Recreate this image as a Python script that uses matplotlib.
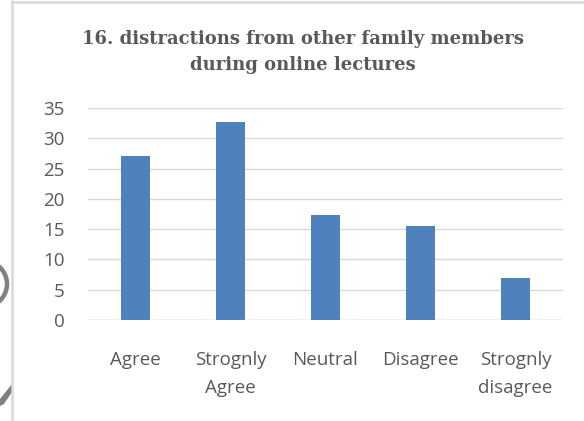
import matplotlib
matplotlib.use("Agg")
import matplotlib.pyplot as plt
from matplotlib.patches import Arc, Polygon
from matplotlib.lines import Line2D

categories = ["Agree", "Strognly\nAgree", "Neutral", "Disagree", "Strognly\ndisagree"]
values = [27, 32.7, 17.3, 15.5, 7.0]
y_ticks = [0, 5, 10, 15, 20, 25, 30, 35]

title = "16. distractions from other family members\nduring online lectures"

text_color = "#595959"
bar_color = "#4f81bd"
grid_color = "#d9d9d9"

W, H = 584, 421
fig = plt.figure(figsize=(W / 100, H / 100), dpi=100)
fig.patch.set_facecolor("white")

ax = fig.add_axes([88 / W, 1 - 320 / H, 475 / W, 212 / H])
x = range(len(categories))
ax.bar(x, values, width=0.31, color=bar_color, zorder=3)

ax.set_xlim(-0.5, len(categories) - 0.5)
ax.set_ylim(0, 35)
ax.set_yticks(y_ticks)
ax.set_xticks(list(x))
ax.set_xticklabels(categories, linespacing=1.72)
ax.yaxis.grid(True, color=grid_color, linewidth=1.0, zorder=0)
ax.set_axisbelow(True)
for s in ax.spines.values():
    s.set_visible(False)
ax.axhline(0, color=grid_color, linewidth=1.0, zorder=2)

for lbl in ax.get_xticklabels() + ax.get_yticklabels():
    lbl.set_fontfamily("Open Sans")
    lbl.set_fontsize(13.5)
    lbl.set_color(text_color)
ax.tick_params(axis="x", length=0, pad=22)
ax.tick_params(axis="y", length=0, pad=17)

fig.text(303 / W, 1 - 52 / H, title, ha="center", va="center",
         fontfamily="DejaVu Serif", fontweight="bold", fontsize=13,
         color=text_color, linespacing=1.55)

# chart frame edges and the bits cut off at the left margin
over = fig.add_axes([0, 0, 1, 1], facecolor="none")
over.set_xlim(0, W)
over.set_ylim(H, 0)
over.axis("off")
over.add_line(Line2D([12, 12], [1, H], color=grid_color, linewidth=1.8))
over.add_line(Line2D([12, W], [1.5, 1.5], color=grid_color, linewidth=1.8))
over.add_patch(Arc((-16, 284), 46, 46, theta1=-70, theta2=70,
                   color="#808080", linewidth=3.2))
over.add_patch(Polygon([(0, 399), (0, 406), (4, 404), (12, 392), (12, 384)],
                       closed=True, color="#808080", linewidth=0))

fig.savefig("out.png", dpi=100)
